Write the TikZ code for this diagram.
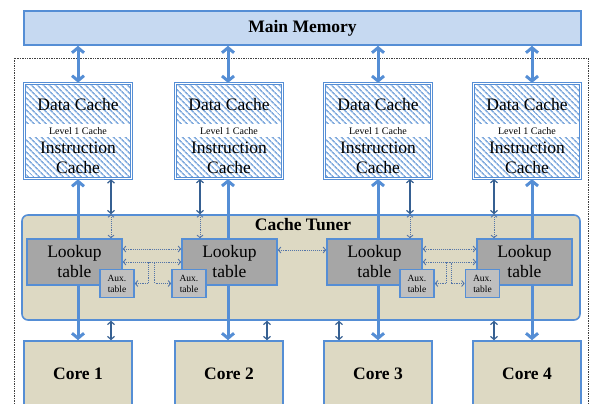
\documentclass[tikz,border=0pt]{standalone}
\usepackage{fontspec}
\setmainfont{Liberation Serif}
\usetikzlibrary{positioning,arrows.meta,calc,patterns.meta}
\definecolor{boxblue}{RGB}{85,142,213}
\definecolor{memfill}{RGB}{198,217,241}
\definecolor{tunerfill}{RGB}{221,217,195}
\definecolor{lookfill}{RGB}{166,166,166}
\definecolor{auxfill}{RGB}{191,191,191}
\definecolor{hatchblue}{RGB}{131,172,222}
\definecolor{linkdark}{RGB}{54,96,146}
\definecolor{linkdot}{RGB}{84,117,168}

\begin{document}
\begin{tikzpicture}[
    x=1pt, y=-1pt,
    bigtext/.style={font=\fontsize{17.5}{20}\selectfont},
    boldtext/.style={font=\fontsize{17.5}{20}\selectfont\bfseries},
    box/.style={draw=boxblue, line width=1.6pt, inner sep=0pt},
    cache/.style={box, line width=1.1pt, double=white, double distance=1pt,
      minimum width=107pt, minimum height=95pt,
      pattern={Lines[angle=-45,distance=4pt,line width=1.7pt]}, pattern color=hatchblue},
    band/.style={fill=white, minimum width=104pt, minimum height=13pt, inner sep=0pt,
      font=\fontsize{10}{11}\selectfont},
    lookup/.style={box, fill=lookfill, minimum width=95pt, minimum height=46pt, align=center, bigtext},
    aux/.style={box, fill=auxfill, minimum width=34pt, minimum height=28pt, align=center,
      font=\fontsize{9.5}{11}\selectfont},
    core/.style={box, fill=tunerfill, minimum width=108pt, minimum height=66pt, boldtext},
    thickline/.style={draw=boxblue, line width=3pt, >={Straight Barb[length=5pt,width=12pt]}},
    thinline/.style={draw=linkdark, line width=1.2pt, >={Straight Barb[length=3pt,width=7pt]}},
    dotline/.style={draw=linkdot, line width=0.9pt, densely dotted, >={Straight Barb[length=2.5pt,width=6pt]}}
  ]
  \useasboundingbox (0,0) rectangle (590,404);
  \clip (0,0) rectangle (590,404);

  % chip outline
  \draw[densely dotted, black!75, line width=0.7pt] (14,58) rectangle (588,430);

  \node[box, fill=memfill, minimum width=557pt, minimum height=34pt, boldtext] (mem) at (302.5,28) {Main Memory};
  \node[box, fill=tunerfill, rounded corners=6pt, minimum width=558pt, minimum height=105pt] (tuner) at (301,267.5) {};
  \node[boldtext, inner sep=1pt, below=2.5pt of tuner.north, xshift=2pt] (tunername) {Cache Tuner};

  \foreach \i/\cx/\bx/\tx/\ax/\ux/\dx in {1/78/78/74.5/117/111/111, 2/229/228/229.5/189/200/267,
      3/378/378/374.5/417/410/339, 4/527/532/524.5/482.5/494/494} {
    \node[cache] (cache\i) at (\cx,131) {};
    \node[band] (band\i) at (cache\i.center) {Level 1 Cache};
    \node[bigtext, inner sep=0pt] (data\i) at ([yshift=26pt]cache\i.center) {Data Cache};
    \node[bigtext, inner sep=0pt, align=center] (instr\i) at ([yshift=-26.5pt]cache\i.center) {Instruction\\Cache};
    \node[lookup] (look\i) at (\tx,262) {Lookup\\table};
    \node[aux] (aux\i) at (\ax,283.5) {Aux.\\table};
    \node[core] (core\i) at (\cx,374) {Core \i};

    \draw[thickline, <->] (\bx,0 |- mem.south) -- (\bx,0 |- cache\i.north);
    \draw[thickline, ->] (\bx,0 |- look\i.north) -- (\bx,0 |- cache\i.south);
    \draw[thickline, ->] (\bx,0 |- look\i.south) -- (\bx,0 |- core\i.north);
    \draw[thinline, <->] (\ux,0 |- cache\i.south) -- (\ux,0 |- tuner.north);
    \draw[dotline, <->] (\ux,0 |- tuner.north) -- (\ux,0 |- look\i.north);
    \draw[thinline, <->] (\dx,0 |- tuner.south) -- (\dx,0 |- core\i.north);
  }

  % links between the tables
  \draw[dotline, <->] ([yshift=13pt]look1.east) -- ([yshift=13pt]look2.west);
  \draw[dotline, <->] (look1.east) -- ++(32,0) |- (aux2.west);
  \draw[dotline, <->] (aux1.east) -- ++(14,0) |- (look2.west);
  \draw[dotline, <->] ([yshift=12pt]look2.east) -- ([yshift=12pt]look3.west);
  \draw[dotline, <->] ([yshift=13pt]look3.east) -- ([yshift=13pt]look4.west);
  \draw[dotline, <->] (look3.east) -- ++(29,0) |- (aux4.west);
  \draw[dotline, <->] (aux3.east) -- ++(12,0) |- (look4.west);
\end{tikzpicture}
\end{document}
